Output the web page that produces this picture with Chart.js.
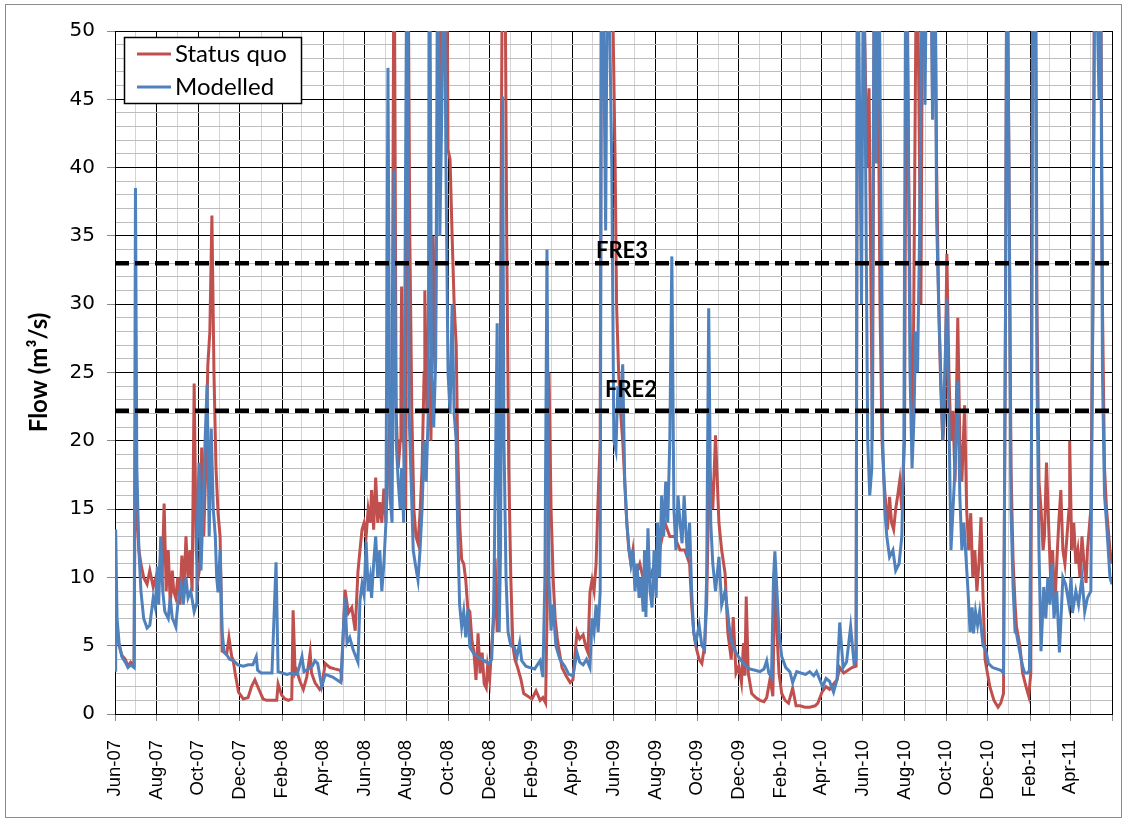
<!DOCTYPE html>
<html>
<head>
<meta charset="utf-8">
<script src="https://cdn.jsdelivr.net/npm/chart.js@4.4.1/dist/chart.umd.min.js"></script>
<style>
    html, body { margin: 0; padding: 0; background: #fff; }
    #flowChart { display: block; }
</style>
</head>
<body>
<canvas id="flowChart" width="1128" height="823"></canvas>
<script>
// Series: days since 1 Jun 2007 and flow (m3/s)
const sqDays = [0,3,6,10,15,19,23,28,30,32,35,38,42,47,51,56,60,63,66,69,72,75,78,81,84,86,89,92,95,98,101,104,107,110,113,116,119,122,125,127,130,133,136,139,142,145,148,151,154,
    157,164,167,171,173,176,181,188,195,200,205,210,217,222,230,237,239,244,249,254,259,261,264,266,271,276,281,286,288,293,300,303,308,315,322,330,332,337,342,347,352,356,
    359,362,365,368,371,374,376,379,382,385,388,391,394,397,400,403,406,409,412,415,418,419,420,423,426,429,432,435,438,441,444,447,450,453,454,457,460,463,466,469,472,473,478,481,483,486,488,491,494,497,500,502,505,508,511,514,517,520,523,526,529,532,535,538,541,544,546,549,552,555,557,560,563,565,568,571,574,577,580,583,586,590,595,599,605,611,617,623,627,631,634,636,639,642,645,648,650,655,661,667,671,677,681,686,690,693,696,699,702,705,708,711,713,730,733,735,738,741,744,747,750,753,756,759,762,769,776,784,791,798,806,813,820,828,835,842,845,848,851,856,860,864,867,
    870,873,876,880,885,889,894,898,903,906,910,914,918,921,923,925,928,933,939,945,951,955,960,964,967,970,973,977,982,987,993,998,1004,1011,1018,1026,1030,1036,1042,1047,1053,1058,1062,1068,1074,1080,1086,
    1088,1094,1099,1102,1105,1108,1110,1113,1118,1121,1124,1127,1130,1132,1135,1138,1141,1144,1147,1150,1153,1157,1160,1163,1166,1169,1172,1175,1178,1181,1184,1187,1190,1193,1195,1198,1201,1204,1207,1210,1213,1216,1219,1222,1225,1228,1231,1235,1238,1241,1245,1248,1251,1254,1257,1260,1263,1266,1269,1272,1275,1277,1282,1288,1294,1298,1302,1305,1307,1310,1313,1316,1319,1321,1326,1330,1335,1339,1342,1343,1345,1349,1351,1354,1357,1360,1362,1365,1368,1371,1374,1377,1380,1383,1386,1389,1392,1395,1398,1399,1402,1405,1408,1411,1414,1417,1420,1423,1425,1430,1433,1436,1442,1444,1447,1450,1453,1458,1461];
const sqFlow = [5,6,5,4.3,4,3.5,3.8,3.6,22,15,12,11,10,9.5,10.5,9.3,10,9,11,10,15.4,9,12,8,10.5,9,8.5,10,8,11.6,9,13,10,12,9,24.2,12,10,11,19.5,13,18,25.5,28,36.5,25,18,14.7,13,
    4.6,4.5,5.6,4.2,4.0,3.0,1.6,1.1,1.2,2.0,2.5,1.9,1.1,1.0,1.0,1.0,2.2,1.4,1.1,1.0,1.1,7.6,3.0,3.2,2.4,1.8,2.7,4.5,3.0,2.3,1.8,2.0,3.7,3.4,3.3,3.2,2.9,9.1,7.4,7.8,6.1,10.4,
    12,13.5,14,13,15,14,16.4,13.5,17.3,14,15.5,14,16.5,14,18,22,22,60,22,18,20,25,31.3,20,15,60,35,22,15,13,12.5,14.7,18,25,31,22,26,20,35,25,40,60,45,60,50,60,41.3,40.6,35,30,27,20,14,11.3,11,9.8,7.7,7.5,5.4,4.5,2.5,5.9,3,4.5,2.2,1.9,3.5,2.5,5,7,11.4,6,10,30,60,60,35,18,10,5,4,3.4,2.5,1.5,1.3,1.1,1.7,1.0,1.2,0.8,10,25,15,10,7,5.6,4.9,3.4,2.8,2.3,2.5,6.0,5.5,5.8,4.9,4.5,8.9,9.8,9,11,15.9,20,60,50,40,30,25,22,20,17,14,12,11,12,10,11,9.5,10,11,12,14,13,13,12,12,11,8,6,5,4,3.7,5,8,
    16,17,15,20.4,14,12,10.3,6,4.0,7.1,3,3.5,2.3,5.2,2.8,8.6,3,1.5,1.2,1.0,0.9,1.2,2.6,1.3,11,6,3,1.5,1.0,0.8,1.9,0.6,0.6,0.5,0.5,0.6,0.8,1.6,2.0,1.8,2.2,2.5,3.4,3.0,3.2,3.4,3.5,
    60,60,48.6,40,45.8,30,20,60,50,30,20,17,15,13.5,15.9,14,13.5,15,16,17.1,15,20,60,40,25,20,40,60,45,30,60,50,60,50,60,45,60,40,30,24,20,22.2,33.7,25,20,22.2,17,29,20,17,22.6,15,12,14.7,10,12,9,11,14.4,8.6,4,3.4,2.0,1.0,0.5,0.8,1.5,30,60,40,18,11.3,8,6.4,5,3,2,1.3,3,20,60,60,30,17,15,12,13,18.4,14,10,12,7.5,11,14,16.4,12,11,13,15,20,12,14,11,12,10,13,11,9.6,12,15,30,60,50,60,30,18,15,12,11];

const modDays = [0,1,3,6,10,15,19,23,28,30,32,35,38,42,47,51,56,59,62,64,67,70,73,78,81,84,86,89,92,97,100,104,107,111,116,119,120,123,126,129,132,135,138,141,144,147,149,151,154,157,160,164,168,174,180,188,195,202,207,209,214,223,230,236,239,245,252,259,267,274,277,283,289,293,297,303,308,319,331,337,340,344,349,356,359,362,365,368,371,374,376,379,382,385,388,391,394,397,400,403,406,409,412,415,418,420,423,428,431,434,437,440,444,447,450,453,456,459,461,464,467,470,473,476,479,482,485,488,491,494,497,500,502,505,508,511,514,517,520,526,532,538,544,548,552,555,558,560,563,565,568,570,573,576,580,585,589,593,596,602,608,615,623,627,630,633,636,639,642,646,652,659,665,671,677,681,686,691,696,699,702,705,708,711,713,716,719,722,728,731,734,737,740,744,747,750,753,756,759,762,765,768,771,774,776,778,781,784,787,790,793,795,798,801,804,807,810,813,816,819,822,825,828,831,834,837,839,842,845,848,851,856,860,864,867,870,873,876,880,885,889,894,897,901,905,910,916,923,930,938,945,951,955,958,962,965,967,970,973,977,983,989,993,999,1005,1012,1018,1024,1028,1033,1037,1042,1047,1053,1058,1062,1067,1072,1078,1083,1086,1088,1094,1097,1100,1103,1106,1109,1113,1116,1119,1122,1125,1128,1131,1135,1140,1144,1149,1153,1156,1159,1162,1165,1168,1171,1173,1176,1179,1184,1187,1190,1193,1195,1198,1201,1204,1207,1210,1213,1216,1219,1222,1225,1228,1231,1235,1238,1241,1244,1247,1250,1253,1256,1258,1261,1264,1267,1272,1276,1280,1286,1292,1298,1302,1305,1307,1310,1313,1316,1319,1321,1326,1330,1333,1338,1340,1343,1345,1348,1351,1354,1357,1361,1364,1367,1370,1373,1376,1380,1384,1389,1393,1398,1401,1403,1408,1412,1417,1421,1425,1430,1433,1436,1442,1444,1447,1450,1453,1458,1461];
const modFlow = [3.2,13.5,7,5.2,4.2,3.8,3.4,3.6,3.4,38.5,18,12,9,7,6.3,6.5,8.5,7.8,10.8,8,13,9,7.5,7,8.5,7,6.8,6.4,8,9.5,8,10,8.5,9,7.5,8,12,18.4,10.5,15,20,24.1,13,20.9,15,13,10,8.9,12,6,4.5,4.3,4,3.9,3.6,3.5,3.6,3.6,4.2,3.2,3.0,3.0,3.0,11.1,3.1,3.0,2.9,3.0,2.9,4.2,3.1,3.3,3.5,3.9,3.7,2.0,2.9,2.7,2.3,8.5,5.2,5.6,4.7,3.8,8.3,9.5,8.7,12.6,9,10,8.5,11,13,10,12,9,11,14,47.3,16,14,39.8,20,17,15,18,14,60,22,17,12,11,9.8,12,15,20,17,22,60,25,21,26,60,35,44.6,60,40,25,22,30,22,20,14,8,6.4,7.5,5.6,7.7,4.9,4.4,4.2,4.0,3.8,3.7,4,8,20,28.6,6,12,45.2,20,10,6,5,4.9,4.2,5.2,3.9,3.5,3.4,3.3,3.9,2.7,10,34,9.8,6.1,8,5,4,3.5,2.9,2.8,4.5,3.8,3.6,4,3.4,7,6,8,6,9,60,50,35.4,60,40,20,19.3,24,22,25.6,17,14,12.2,11,12,9,11,8.5,10,7.5,12,7.1,13.6,9,7.8,12,8.5,14,10,16,13,17,14,20,33.5,15,12,16,14,12.5,16,13,11.5,14,9,6,5.2,6.5,5,4.7,10,29.7,14,11,9,11.5,8,9,7.8,6,5,4.5,4,3.6,3.3,3.2,3.1,3.3,3.9,3.0,2.7,10,11.9,9,6,4.2,3.4,3.1,2.3,3.1,3.0,2.9,3.1,2.8,3.1,2.5,2.0,2.6,2.4,1.6,2.5,6.7,3.4,3.8,6.4,3.7,4,60,30,60,40,20,16,18,60,40.3,60,40,20,15,13,11.5,12,10.5,11,13,20,60,45,25,18,22,28,25,35,60,44.6,60,50,60,43.5,60,36.2,30,25,20,25,30.4,22,12,15,18,24.4,16,12,14,11.5,9,6,7.8,5.9,7.5,6.5,7.5,5,4.7,3.7,3.4,3.3,3.2,3.0,30,60,40,15,9.3,6,5.9,4.5,3.5,3.0,3.0,3.2,20,60,60,25,12,4.6,9.3,7,10,8,11,7,9,4.5,10,9.5,8,10,7.4,9,8,10,7.5,8.5,9,30,60,45,60,25,16,14,10,9.5];

// Flow thresholds (m3/s)
const fre3Level = 33;
const fre2Level = 22.2;

// x axis: one tick per month, labels every second month
const startDate = Date.UTC(2007, 5, 1);
const monthCount = 48;
const tickLabels = ['Jun-07','Aug-07','Oct-07','Dec-07','Feb-08','Apr-08','Jun-08','Aug-08','Oct-08','Dec-08','Feb-09','Apr-09',
    'Jun-09','Aug-09','Oct-09','Dec-09','Feb-10','Apr-10','Jun-10','Aug-10','Oct-10','Dec-10','Feb-11','Apr-11'];

const dayMs = 86400000;
const monthDays = [];
for (let i = 0; i <= monthCount; i++) {
    monthDays.push(Math.round((Date.UTC(2007, 5 + i, 1) - startDate) / dayMs));
}
const lastDay = monthDays[monthDays.length - 1];

function toPoints(days, flow) {
    return days.map((d, i) => ({ x: d, y: flow[i] }));
}

// Legend, threshold labels and frame
const decorPlugin = {
    id: 'decor',
    beforeDraw(chart) {
        const ctx = chart.ctx;
        ctx.save();
        ctx.fillStyle = '#fff';
        ctx.fillRect(0, 0, chart.width, chart.height);
        ctx.strokeStyle = '#8c8c8c';
        ctx.lineWidth = 1;
        ctx.strokeRect(5.5, 4.5, 1116, 813);
        ctx.restore();
    },
    afterDraw(chart) {
        const ctx = chart.ctx;
        const y = chart.scales.y;
        ctx.save();
        // threshold labels
        ctx.fillStyle = '#000';
        ctx.font = 'bold 22px Lato, "DejaVu Sans", sans-serif';
        ctx.textBaseline = 'alphabetic';
        ctx.fillText('FRE3', 596, y.getPixelForValue(fre3Level) - 5);
        ctx.fillText('FRE2', 605, y.getPixelForValue(fre2Level) - 14);

        // legend
        ctx.fillStyle = '#fff';
        ctx.fillRect(124, 37, 177, 66);
        ctx.strokeStyle = '#000';
        ctx.lineWidth = 1.5;
        ctx.strokeRect(124.5, 37.5, 177, 66);
        const items = [
            { label: 'Status quo', color: '#C0504D', yy: 54 },
            { label: 'Modelled', color: '#4F81BD', yy: 87 }
        ];
        ctx.font = '24px Lato, "DejaVu Sans", sans-serif';
        ctx.textBaseline = 'middle';
        items.forEach(it => {
            ctx.strokeStyle = it.color;
            ctx.lineWidth = 3;
            ctx.beginPath();
            ctx.moveTo(137, it.yy);
            ctx.lineTo(171, it.yy);
            ctx.stroke();
            ctx.fillStyle = '#000';
            ctx.fillText(it.label, 175, it.yy);
        });
        ctx.restore();
    }
};

const ctx = document.getElementById('flowChart').getContext('2d');
new Chart(ctx, {
    type: 'line',
    data: {
        datasets: [
            {
                label: 'Status quo',
                data: toPoints(sqDays, sqFlow),
                borderColor: '#C0504D',
                borderWidth: 3,
                pointRadius: 0,
                tension: 0,
                clip: 0,
                order: 2
            },
            {
                label: 'Modelled',
                data: toPoints(modDays, modFlow),
                borderColor: '#4F81BD',
                borderWidth: 3,
                pointRadius: 0,
                tension: 0,
                clip: 0,
                order: 1
            },
            {
                label: 'FRE3',
                data: [{ x: 0, y: fre3Level }, { x: lastDay, y: fre3Level }],
                borderColor: '#000',
                borderWidth: 4.5,
                borderDash: [14, 6],
                pointRadius: 0,
                order: 0
            },
            {
                label: 'FRE2',
                data: [{ x: 0, y: fre2Level }, { x: lastDay, y: fre2Level }],
                borderColor: '#000',
                borderWidth: 4.5,
                borderDash: [14, 6],
                pointRadius: 0,
                order: 0
            }
        ]
    },
    options: {
        responsive: false,
        animation: false,
        devicePixelRatio: 1,
        layout: { padding: { left: 0, right: 16, top: 31, bottom: 0 } },
        plugins: {
            legend: { display: false },
            tooltip: { enabled: false }
        },
        scales: {
            x: {
                type: 'linear',
                min: 0,
                max: lastDay,
                afterBuildTicks: scale => {
                    scale.ticks = monthDays.map(v => ({ value: v }));
                },
                afterFit: scale => {
                    scale.height = 109;
                    scale.paddingLeft = 0;
                    scale.paddingRight = 0;
                },
                border: { color: '#000', width: 1 },
                grid: {
                    color: c => (c.index % 2 === 0 ? '#000' : '#d3d3d3'),
                    lineWidth: 1,
                    tickLength: 7,
                    tickColor: c => (c.index % 2 === 0 ? '#8a8a8a' : 'rgba(0,0,0,0)')
                },
                ticks: {
                    autoSkip: false,
                    maxRotation: 90,
                    minRotation: 90,
                    padding: 19,
                    color: '#000',
                    font: { family: '"Liberation Sans", Arial, sans-serif', size: 18.5 },
                    callback: (value, index) => (index % 2 === 0 && index / 2 < tickLabels.length ? tickLabels[index / 2] : '')
                }
            },
            y: {
                min: 0,
                max: 50,
                afterFit: scale => { scale.width = 115; },
                border: { color: '#000', width: 1 },
                grid: {
                    color: c => (c.tick.value % 5 === 0 ? '#000' : '#bdbdbd'),
                    lineWidth: 1,
                    tickLength: 8,
                    tickColor: c => (c.tick.value % 5 === 0 ? '#8a8a8a' : 'rgba(0,0,0,0)')
                },
                ticks: {
                    stepSize: 1,
                    autoSkip: false,
                    padding: 12,
                    color: '#000',
                    font: { family: '"DejaVu Sans", Verdana, sans-serif', size: 20 },
                    callback: v => (v % 5 === 0 ? v : '')
                },
                title: {
                    display: true,
                    text: 'Flow (m³/s)',
                    color: '#000',
                    font: { family: 'Lato, "DejaVu Sans", sans-serif', size: 24, weight: 'bold' },
                    padding: { top: 25, bottom: 0 }
                }
            }
        }
    },
    plugins: [decorPlugin]
});
</script>
</body>
</html>
